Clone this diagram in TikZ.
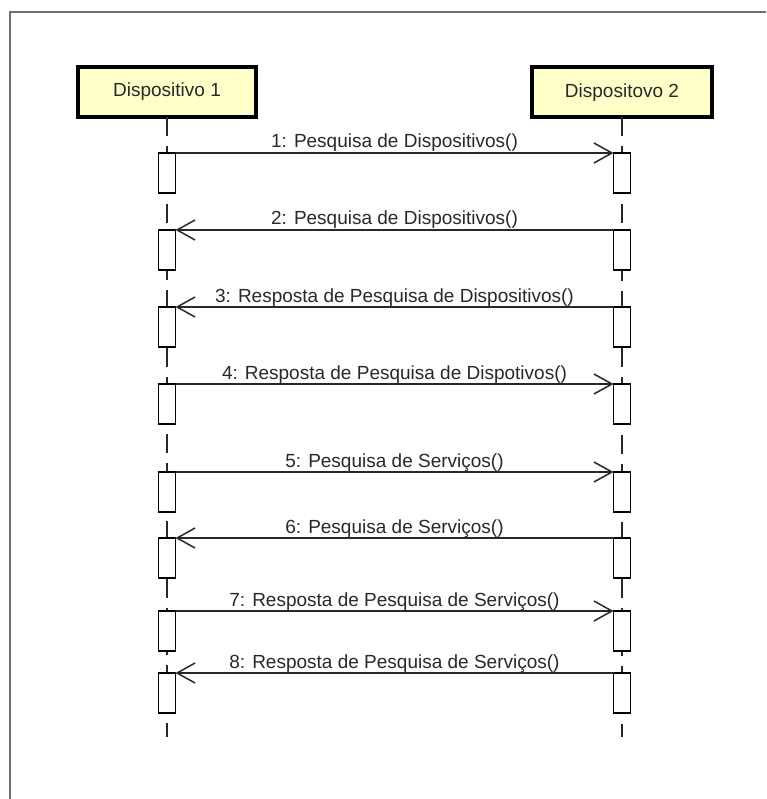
\documentclass[tikz,border=0pt]{standalone}
\usepackage{fontspec}
\setmainfont{Liberation Sans}
\usetikzlibrary{arrows.meta}

\definecolor{actorfill}{RGB}{255,255,202}
\definecolor{inkgray}{RGB}{40,40,40}
\definecolor{framegray}{RGB}{112,112,112}

\begin{document}
\begin{tikzpicture}[x=1pt,y=-1pt,
  every node/.style={font=\fontsize{19}{23}\selectfont, text=inkgray, outer sep=0pt},
  actor/.style={draw=black, line width=4pt, fill=actorfill, minimum height=50pt, inner sep=0pt},
  activation/.style={draw=black, line width=1.3pt, fill=white, minimum width=17pt, minimum height=40pt, inner sep=0pt, anchor=north},
  lifeline/.style={draw=inkgray, line width=2pt, dash pattern=on 19pt off 9.86pt},
  msg/.style={draw=inkgray, line width=1.5pt, -{Straight Barb[length=18pt,width=20pt,line width=1.5pt]}},
  msglabel/.style={midway, anchor=base, yshift=5pt, inner sep=0pt}
]
\useasboundingbox (0,0) rectangle (766,799);

% outer frame
\draw[framegray, line width=2pt] (766,12) -- (10,12) -- (10,799);

% participants
\node[actor, minimum width=178pt] (p1) at (167,92) {Dispositivo 1};
\node[actor, minimum width=180pt] (p2) at (622,92.5) {Dispositovo 2};

% lifelines
\coordinate (e1) at (167,737);
\coordinate (e2) at (622,737);
\draw[lifeline] (p1.south) -- (e1);
\draw[lifeline] (p2.south) -- (e2);

% activation bars, one pair per message
\foreach \i/\y in {1/153, 2/230, 3/307, 4/384, 5/472, 6/538, 7/611, 8/673} {
  \node[activation] (L\i) at (167,\y) {};
  \node[activation] (R\i) at (622,\y) {};
}

% messages
\draw[msg] (L1.north east) -- (R1.north west) node[msglabel] {1: Pesquisa de Dispositivos()};
\draw[msg] (R2.north west) -- (L2.north east) node[msglabel] {2: Pesquisa de Dispositivos()};
\draw[msg] (R3.north west) -- (L3.north east) node[msglabel] {3: Resposta de Pesquisa de Dispositivos()};
\draw[msg] (L4.north east) -- (R4.north west) node[msglabel] {4: Resposta de Pesquisa de Dispotivos()};
\draw[msg] (L5.north east) -- (R5.north west) node[msglabel] {5: Pesquisa de Serviços()};
\draw[msg] (R6.north west) -- (L6.north east) node[msglabel] {6: Pesquisa de Serviços()};
\draw[msg] (L7.north east) -- (R7.north west) node[msglabel] {7: Resposta de Pesquisa de Serviços()};
\draw[msg] (R8.north west) -- (L8.north east) node[msglabel] {8: Resposta de Pesquisa de Serviços()};
\end{tikzpicture}
\end{document}
